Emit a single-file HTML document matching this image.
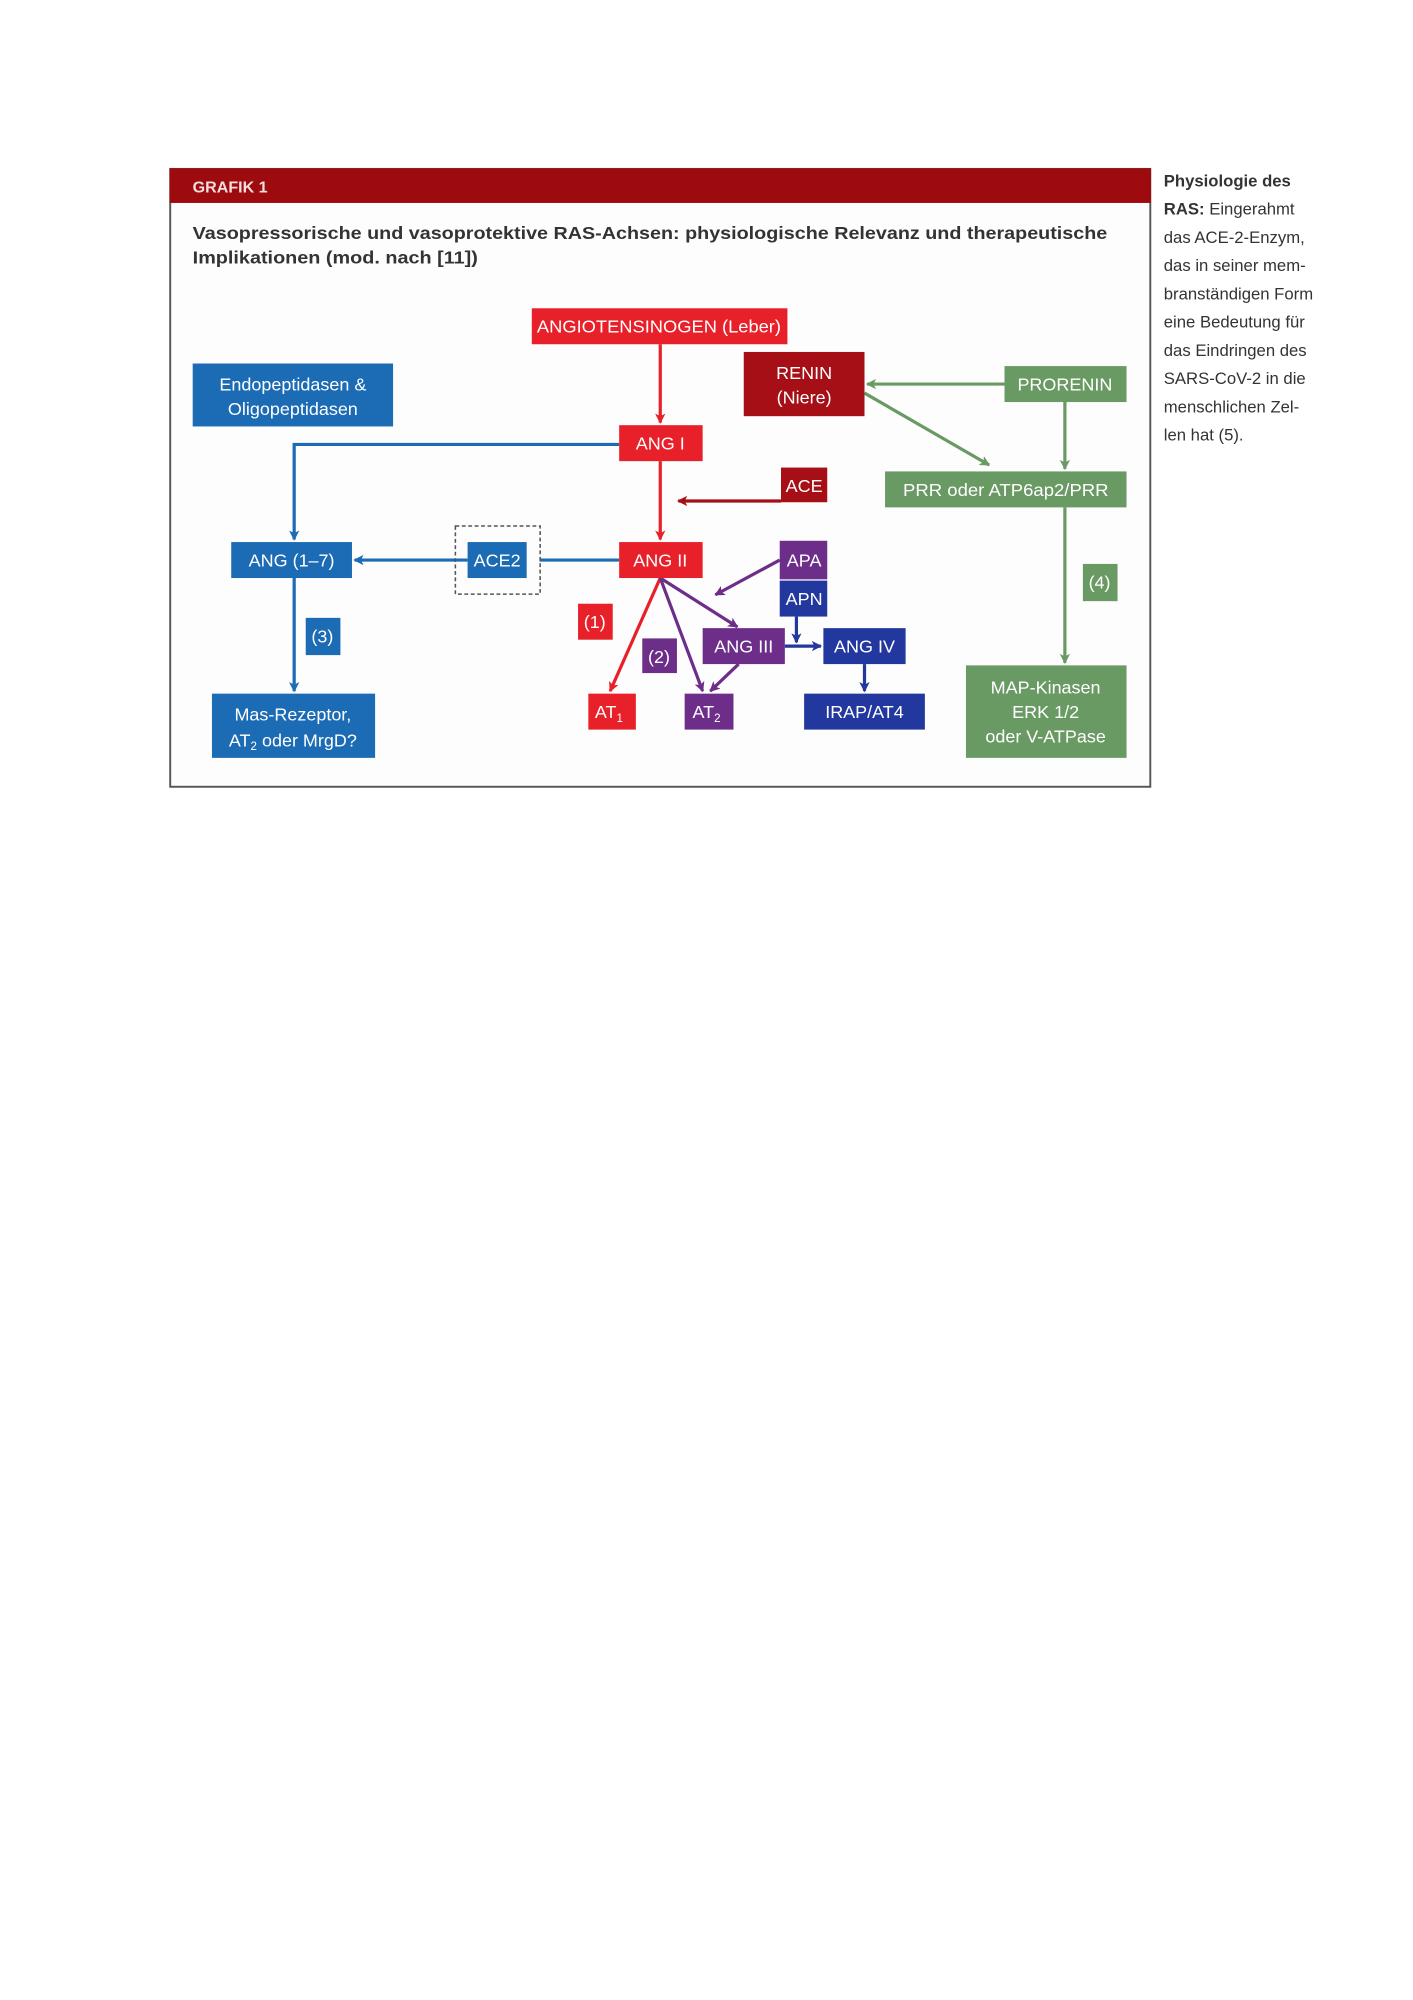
<!DOCTYPE html>
<html><head><meta charset="utf-8"><style>
html,body{margin:0;padding:0;background:#fff;}
svg{display:block;}
text{font-family:"Liberation Sans",sans-serif;}
</style></head><body>
<svg width="1413" height="2000" viewBox="0 0 1100 1557" xmlns="http://www.w3.org/2000/svg">
<defs>
<marker id="ar" markerWidth="8" markerHeight="8" refX="7" refY="4" orient="auto" markerUnits="userSpaceOnUse"><path d="M0,0 L8,4 L0,8 L2,4 z" fill="#e8202a"/></marker>
<marker id="adr" markerWidth="8" markerHeight="8" refX="7" refY="4" orient="auto" markerUnits="userSpaceOnUse"><path d="M0,0 L8,4 L0,8 L2,4 z" fill="#a50f15"/></marker>
<marker id="ab" markerWidth="8" markerHeight="8" refX="7" refY="4" orient="auto" markerUnits="userSpaceOnUse"><path d="M0,0 L8,4 L0,8 L2,4 z" fill="#1c6bb5"/></marker>
<marker id="ap" markerWidth="8" markerHeight="8" refX="7" refY="4" orient="auto" markerUnits="userSpaceOnUse"><path d="M0,0 L8,4 L0,8 L2,4 z" fill="#6d2e8a"/></marker>
<marker id="adb" markerWidth="8" markerHeight="8" refX="7" refY="4" orient="auto" markerUnits="userSpaceOnUse"><path d="M0,0 L8,4 L0,8 L2,4 z" fill="#22389e"/></marker>
<marker id="ag" markerWidth="8" markerHeight="8" refX="7" refY="4" orient="auto" markerUnits="userSpaceOnUse"><path d="M0,0 L8,4 L0,8 L2,4 z" fill="#6a9a64"/></marker>
</defs>
<!-- frame -->
<rect x="132.5" y="131.5" width="763" height="481" fill="#fdfdfd" stroke="#555" stroke-width="1.5"/>
<rect x="132" y="131" width="764" height="27" fill="#9e0b0f"/>
<text x="150" y="150" font-size="12.5" font-weight="bold" fill="#f4dede">GRAFIK 1</text>
<text x="150" y="186" font-size="14" font-weight="bold" fill="#333" textLength="712" lengthAdjust="spacingAndGlyphs">Vasopressorische und vasoprotektive RAS-Achsen: physiologische Relevanz und therapeutische</text>
<text x="150" y="205" font-size="14" font-weight="bold" fill="#333" textLength="222" lengthAdjust="spacingAndGlyphs">Implikationen (mod. nach [11])</text>

<!-- connectors -->
<g fill="none" stroke-width="2.5">
<line x1="514" y1="268" x2="514" y2="329" stroke="#e8202a" marker-end="url(#ar)"/>
<line x1="514" y1="359" x2="514" y2="420" stroke="#e8202a" marker-end="url(#ar)"/>
<line x1="608" y1="390" x2="528" y2="390" stroke="#a50f15" marker-end="url(#adr)"/>
<polyline points="482,346 229,346 229,420" stroke="#1c6bb5" marker-end="url(#ab)"/>
<line x1="482" y1="436" x2="420" y2="436" stroke="#1c6bb5"/>
<line x1="364" y1="436" x2="276" y2="436" stroke="#1c6bb5" marker-end="url(#ab)"/>
<line x1="229" y1="450" x2="229" y2="538" stroke="#1c6bb5" marker-end="url(#ab)"/>
<line x1="782" y1="299" x2="675" y2="299" stroke="#6a9a64" marker-end="url(#ag)"/>
<line x1="673" y1="306" x2="770" y2="362" stroke="#6a9a64" marker-end="url(#ag)"/>
<line x1="829" y1="313" x2="829" y2="365" stroke="#6a9a64" marker-end="url(#ag)"/>
<line x1="829" y1="395" x2="829" y2="516" stroke="#6a9a64" marker-end="url(#ag)"/>
<line x1="514" y1="450" x2="475" y2="538" stroke="#e8202a" marker-end="url(#ar)"/>
<line x1="514" y1="450" x2="547" y2="538" stroke="#6d2e8a" marker-end="url(#ap)"/>
<line x1="514" y1="450" x2="574" y2="488" stroke="#6d2e8a" marker-end="url(#ap)"/>
<line x1="607" y1="436" x2="557" y2="463" stroke="#6d2e8a" marker-end="url(#ap)"/>
<line x1="575" y1="517" x2="553" y2="538" stroke="#6d2e8a" marker-end="url(#ap)"/>
<line x1="620" y1="480" x2="620" y2="500" stroke="#22389e" marker-end="url(#adb)"/>
<line x1="611" y1="503" x2="639" y2="503" stroke="#22389e" marker-end="url(#adb)"/>
<line x1="673" y1="517" x2="673" y2="538" stroke="#22389e" marker-end="url(#adb)"/>
</g>
<rect x="354.5" y="409.5" width="66" height="53" fill="none" stroke="#555" stroke-width="1.2" stroke-dasharray="3,2"/>

<!-- boxes -->
<g font-size="14" fill="#fff" text-anchor="middle">
<rect x="414" y="240" width="199" height="28" fill="#e8202a"/><text x="513" y="259" fill="#fff" textLength="190" lengthAdjust="spacingAndGlyphs">ANGIOTENSINOGEN (Leber)</text>
<rect x="150" y="283" width="156" height="49" fill="#1c6bb5"/><text x="228" y="304" fill="#fff">Endopeptidasen &amp;</text><text x="228" y="323" fill="#fff">Oligopeptidasen</text>
<rect x="579" y="274" width="94" height="50" fill="#a50f15"/><text x="626" y="295" fill="#fff">RENIN</text><text x="626" y="314" fill="#fff">(Niere)</text>
<rect x="782" y="285" width="95" height="28" fill="#6a9a64"/><text x="829" y="304" fill="#fff">PRORENIN</text>
<rect x="482" y="331" width="65" height="28" fill="#e8202a"/><text x="514" y="350" fill="#fff">ANG I</text>
<rect x="608" y="364" width="36" height="27" fill="#a50f15"/><text x="626" y="383" fill="#fff">ACE</text>
<rect x="689" y="367" width="188" height="28" fill="#6a9a64"/><text x="783" y="386" fill="#fff" textLength="160" lengthAdjust="spacingAndGlyphs">PRR oder ATP6ap2/PRR</text>
<rect x="180" y="422" width="94" height="28" fill="#1c6bb5"/><text x="227" y="441" fill="#fff">ANG (1–7)</text>
<rect x="364" y="422" width="46" height="28" fill="#1c6bb5"/><text x="387" y="441" fill="#fff">ACE2</text>
<rect x="482" y="422" width="65" height="28" fill="#e8202a"/><text x="514" y="441" fill="#fff">ANG II</text>
<rect x="607" y="421" width="37" height="30" fill="#6d2e8a"/><text x="626" y="441" fill="#fff">APA</text>
<rect x="607" y="452" width="37" height="28" fill="#22389e"/><text x="626" y="471" fill="#fff">APN</text>
<rect x="843" y="439" width="27" height="29" fill="#6a9a64"/><text x="856" y="458" fill="#fff">(4)</text>
<rect x="450" y="470" width="27" height="28" fill="#e8202a"/><text x="463" y="489" fill="#fff">(1)</text>
<rect x="238" y="481" width="27" height="29" fill="#1c6bb5"/><text x="251" y="500" fill="#fff">(3)</text>
<rect x="500" y="497" width="27" height="27" fill="#6d2e8a"/><text x="513" y="516" fill="#fff">(2)</text>
<rect x="547" y="489" width="64" height="28" fill="#6d2e8a"/><text x="579" y="508" fill="#fff">ANG III</text>
<rect x="641" y="489" width="64" height="28" fill="#22389e"/><text x="673" y="508" fill="#fff">ANG IV</text>
<rect x="458" y="540" width="37" height="28" fill="#e8202a"/><text x="474" y="559" fill="#fff">AT<tspan font-size="9" dy="3">1</tspan></text>
<rect x="533" y="540" width="38" height="28" fill="#6d2e8a"/><text x="550" y="559" fill="#fff">AT<tspan font-size="9" dy="3">2</tspan></text>
<rect x="626" y="540" width="94" height="28" fill="#22389e"/><text x="673" y="559" fill="#fff">IRAP/AT4</text>
<rect x="165" y="540" width="127" height="50" fill="#1c6bb5"/><text x="228" y="561" fill="#fff">Mas-Rezeptor,</text><text x="228" y="581" fill="#fff">AT<tspan font-size="9" dy="3">2</tspan><tspan dy="-3"> oder MrgD?</tspan></text>
<rect x="752" y="518" width="125" height="72" fill="#6a9a64"/><text x="814" y="540" fill="#fff">MAP-Kinasen</text><text x="814" y="559" fill="#fff">ERK 1/2</text><text x="814" y="578" fill="#fff">oder V-ATPase</text>
</g>

<!-- side text -->
<g font-size="13" fill="#333">
<text x="906" y="145" font-weight="bold">Physiologie des</text>
<text x="906" y="167"><tspan font-weight="bold">RAS:</tspan> Eingerahmt</text>
<text x="906" y="189">das ACE-2-Enzym,</text>
<text x="906" y="211">das in seiner mem-</text>
<text x="906" y="233">branständigen Form</text>
<text x="906" y="255">eine Bedeutung für</text>
<text x="906" y="277">das Eindringen des</text>
<text x="906" y="299">SARS-CoV-2 in die</text>
<text x="906" y="321">menschlichen Zel-</text>
<text x="906" y="343">len hat (5).</text>
</g>
</svg>
</body></html>
